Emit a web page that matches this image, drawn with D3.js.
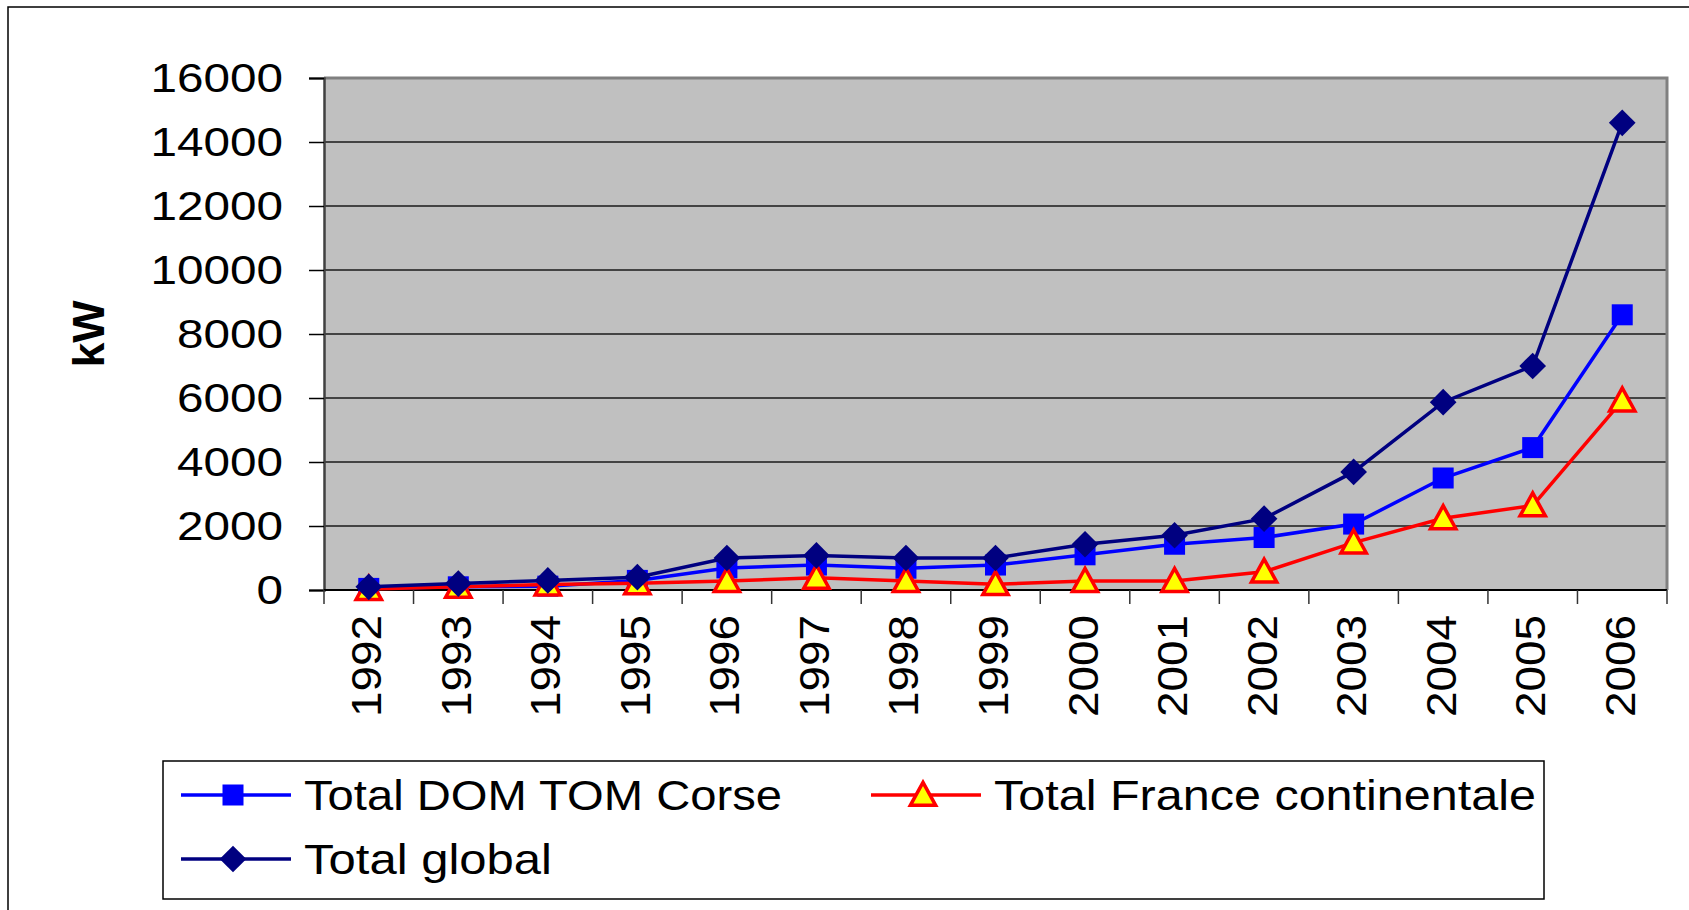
<html>
<head>
<meta charset="utf-8">
<script src="https://d3js.org/d3.v7.min.js"></script>
<style>
  body { margin: 0; background: #fff; }
  text { font-family: "Liberation Sans", Arial, sans-serif; }
</style>
</head>
<body>
<script>
  // values (kW)
  var years = ["1992","1993","1994","1995","1996","1997","1998","1999","2000","2001","2002","2003","2004","2005","2006"];
  var domTomCorse = [50, 100, 120, 300, 690, 780, 680, 780, 1100, 1430, 1640, 2060, 3500, 4450, 8600];
  var franceCont = [30, 100, 170, 210, 280, 380, 280, 180, 280, 280, 570, 1480, 2240, 2640, 5920];
  var totalGlobal = [100, 200, 300, 400, 1000, 1080, 1000, 1000, 1430, 1710, 2230, 3690, 5870, 7000, 14600];
  var yTicks = [0, 2000, 4000, 6000, 8000, 10000, 12000, 14000, 16000];
  var seriesNames = ["Total DOM TOM Corse", "Total France continentale", "Total global"];

  var W = 1689, H = 910;
  var plotL = 324, plotR = 1667, plotT = 78, plotB = 590;

  var svg = d3.select("body").append("svg")
      .attr("width", W)
      .attr("height", H);

  // outer frame
  svg.append("rect")
      .attr("x", 8).attr("y", 7)
      .attr("width", W + 20).attr("height", H + 20)
      .attr("fill", "none").attr("stroke", "#000").attr("stroke-width", 1.5);

  var x = d3.scaleBand().domain(years).range([plotL, plotR]).padding(0);
  var y = d3.scaleLinear().domain([0, 16000]).range([plotB, plotT]);
  var cx = function(d, i){ return x(years[i]) + x.bandwidth() / 2; };

  // plot background
  svg.append("rect")
      .attr("x", plotL).attr("y", plotT)
      .attr("width", plotR - plotL).attr("height", plotB - plotT)
      .attr("fill", "#c0c0c0");

  // gridlines
  svg.append("g").selectAll("line")
      .data(yTicks.filter(function(d){ return d > 0 && d < 16000; }))
      .enter().append("line")
      .attr("x1", plotL).attr("x2", plotR)
      .attr("y1", function(d){ return y(d); })
      .attr("y2", function(d){ return y(d); })
      .attr("stroke", "#1a1a1a").attr("stroke-width", 1.5);

  // gray frame top/right
  svg.append("path")
      .attr("d", "M" + plotL + "," + y(16000) + "H" + plotR + "V" + plotB)
      .attr("fill", "none").attr("stroke", "#808080").attr("stroke-width", 3);

  // y axis
  var yAxis = d3.axisLeft(y).tickValues(yTicks).tickSize(15).tickPadding(26).tickFormat(d3.format("d"));
  var gy = svg.append("g").attr("transform", "translate(" + plotL + ",0)").call(yAxis);
  gy.select(".domain").attr("stroke", "#404040").attr("stroke-width", 2.5);
  gy.selectAll(".tick line").attr("stroke", "#000").attr("stroke-width", 1.5);
  gy.selectAll(".tick text")
      .attr("font-size", 41)
      .attr("fill", "#000")
      .attr("textLength", function(d){ return String(d).length * 26.5; })
      .attr("lengthAdjust", "spacingAndGlyphs");

  // x axis: ticks between categories
  var gx = svg.append("g");
  gx.append("line")
      .attr("x1", plotL).attr("x2", plotR)
      .attr("y1", plotB).attr("y2", plotB)
      .attr("stroke", "#000").attr("stroke-width", 2);
  var bounds = years.map(function(d){ return x(d); }).concat([x.range()[1]]);
  gx.selectAll("line.tk").data(bounds).enter().append("line")
      .attr("class", "tk")
      .attr("x1", function(d){ return d; }).attr("x2", function(d){ return d; })
      .attr("y1", plotB).attr("y2", plotB + 14)
      .attr("stroke", "#333").attr("stroke-width", 1.5);
  gx.selectAll("text").data(years).enter().append("text")
      .attr("transform", function(d){ return "translate(" + (x(d) + x.bandwidth() / 2 - 3) + "," + 615 + ") rotate(-90)"; })
      .attr("text-anchor", "end")
      .attr("dy", "0.36em")
      .attr("font-size", 43)
      .attr("textLength", 102)
      .attr("lengthAdjust", "spacingAndGlyphs")
      .text(function(d){ return d; });

  // axis title
  svg.append("text")
      .attr("transform", "translate(88,334) rotate(-90)")
      .attr("text-anchor", "middle")
      .attr("dy", "0.36em")
      .attr("font-size", 44)
      .attr("font-weight", "bold")
      .attr("textLength", 67)
      .attr("lengthAdjust", "spacingAndGlyphs")
      .text("kW");

  // markers
  function drawMarker(g, type, size) {
    if (type === "square") {
      g.append("rect").attr("x", -size / 2).attr("y", -size / 2)
        .attr("width", size).attr("height", size).attr("fill", "#0000ff");
    } else if (type === "triangle") {
      var s = size;
      g.append("path")
        .attr("d", "M0," + (-s * 0.55) + "L" + (s * 0.55) + "," + (s * 0.45) + "L" + (-s * 0.55) + "," + (s * 0.45) + "Z")
        .attr("fill", "#ffff00").attr("stroke", "#ff0000").attr("stroke-width", 3.5)
        .attr("stroke-linejoin", "miter");
    } else {
      var r = size * 0.58;
      g.append("path")
        .attr("d", "M0," + (-r) + "L" + r + ",0L0," + r + "L" + (-r) + ",0Z")
        .attr("fill", "#000080");
    }
  }

  var series = [
    { name: seriesNames[0], values: domTomCorse, color: "#0000ff", marker: "square", size: 21 },
    { name: seriesNames[1], values: franceCont, color: "#ff0000", marker: "triangle", size: 23 },
    { name: seriesNames[2], values: totalGlobal, color: "#000080", marker: "diamond", size: 23 }
  ];

  var line = d3.line()
      .x(function(d, i){ return cx(d, i); })
      .y(function(d){ return y(d); });

  series.forEach(function(s) {
    var g = svg.append("g");
    g.append("path")
        .attr("d", line(s.values))
        .attr("fill", "none")
        .attr("stroke", s.color)
        .attr("stroke-width", 3.5);
    g.selectAll("g.m").data(s.values).enter().append("g")
        .attr("class", "m")
        .attr("transform", function(d, i){ return "translate(" + cx(d, i) + "," + y(d) + ")"; })
        .each(function(){ drawMarker(d3.select(this), s.marker, s.size); });
  });

  // legend
  var lg = svg.append("g");
  lg.append("rect")
      .attr("x", 163).attr("y", 761)
      .attr("width", 1381).attr("height", 138)
      .attr("fill", "#fff").attr("stroke", "#000").attr("stroke-width", 1.5);

  var legendPos = [
    { x: 181, y: 795, tw: 478 },
    { x: 871, y: 795, tw: 542 },
    { x: 181, y: 859, tw: 248 }
  ];
  series.forEach(function(s, i) {
    var p = legendPos[i];
    var e = lg.append("g").attr("transform", "translate(" + p.x + "," + p.y + ")");
    e.append("line").attr("x1", 0).attr("x2", 110).attr("y1", 0).attr("y2", 0)
        .attr("stroke", s.color).attr("stroke-width", 3.5);
    var m = e.append("g").attr("transform", "translate(52,0)");
    drawMarker(m, s.marker, s.size);
    e.append("text")
        .attr("x", 123).attr("y", 0)
        .attr("dy", "0.36em")
        .attr("font-size", 43)
        .attr("textLength", p.tw)
        .attr("lengthAdjust", "spacingAndGlyphs")
        .text(s.name);
  });
</script>
</body>
</html>
